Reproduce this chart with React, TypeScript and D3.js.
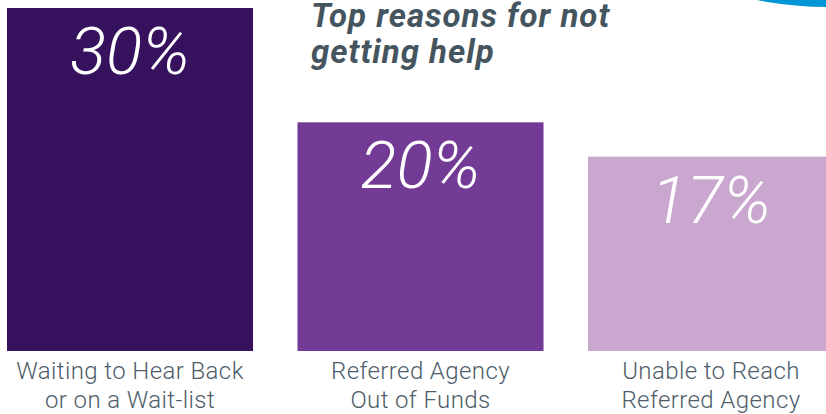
import React from "react";
import * as d3 from "d3";

const categories = ["wait", "funds", "reach"];
const values = [30, 20, 17];
const valueLabels = ["30%", "20%", "17%"];
const labelLines = [
  ["Waiting to Hear Back", "or on a Wait-list"],
  ["Referred Agency", "Out of Funds"],
  ["Unable to Reach", "Referred Agency"],
];
const colors = ["#36125e", "#733b96", "#c9a7cf"];
const titleLines = ["Top reasons for not", "getting help"];

const W = 826;
const H = 414;

export default function App() {
  const x = d3.scaleBand<string>().domain(categories).range([7, 834]).paddingInner(0.153).paddingOuter(0);
  const y = d3.scaleLinear().domain([0, 30]).range([351, 8]);

  const ellipsePath = (cx: number, cy: number, rx: number, ry: number) =>
    `M${cx - rx},${cy} A${rx},${ry} 0 1,0 ${cx + rx},${cy} A${rx},${ry} 0 1,0 ${cx - rx},${cy} Z`;

  return (
    <svg
      width={W}
      height={H}
      style={{ position: "absolute", left: 0, top: 0, background: "#fff" }}
      viewBox={`0 0 ${W} ${H}`}
    >
      <path d={ellipsePath(830, -60, 164, 67)} fill="#0096d6" />
      {categories.map((c, i) => {
        const bx = x(c)!;
        const bw = x.bandwidth();
        const top = y(values[i]);
        const cx = bx + bw / 2;
        return (
          <g key={c}>
            <rect x={bx} y={top} width={bw} height={y(0) - top} fill={colors[i]} />
            <text
              x={cx}
              y={top + 66}
              textAnchor="middle"
              fill="#fff"
              fontFamily="Roboto"
              fontStyle="italic"
              fontWeight={300}
              fontSize={67}
            >
              {valueLabels[i]}
            </text>
            {labelLines[i].map((line, j) => (
              <text
                key={j}
                x={cx}
                y={379 + j * 29}
                textAnchor="middle"
                fill="#4e5d69"
                fontFamily="Roboto"
                fontWeight={300}
                fontSize={24}
                letterSpacing={0.4}
              >
                {line}
              </text>
            ))}
          </g>
        );
      })}
      {titleLines.map((t, j) => (
        <text
          key={j}
          x={311}
          y={27 + j * 36}
          fill="#455560"
          fontFamily="Roboto"
          fontStyle="italic"
          fontWeight={700}
          fontSize={33}
          letterSpacing={1}
        >
          {t}
        </text>
      ))}
    </svg>
  );
}
